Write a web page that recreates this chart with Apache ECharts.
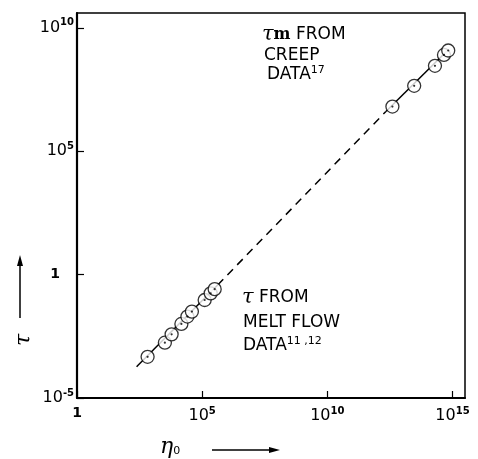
<!DOCTYPE html>
<html><head><meta charset="utf-8">
<script src="https://cdn.jsdelivr.net/npm/echarts@6/dist/echarts.min.js"></script>
<style>html,body{margin:0;padding:0;background:#fff}#c{width:478px;height:459px}</style>
</head><body><div id="c"></div>
<script>
// All values are log10 exponents (eta0 on x, tau on y)
const meltFlowLogEta = [2.82, 3.51, 3.78, 4.17, 4.41, 4.59, 5.10, 5.34, 5.50];
const meltFlowLogTau = [-3.33, -2.76, -2.42, -2.00, -1.70, -1.50, -1.03, -0.76, -0.59];
const creepLogEta = [12.60, 13.47, 14.30, 14.66, 14.83];
const creepLogTau = [6.81, 7.65, 8.46, 8.90, 9.08];
const solidLowLogEta = [2.38, 5.62];
const solidLowLogTau = [-3.73, -0.42];
const dashedLogEta = [5.62, 12.34];
const dashedLogTau = [-0.42, 6.61];
const solidHighLogEta = [12.34, 14.82];
const solidHighLogTau = [6.61, 9.10];
const xTickExps = [0, 5, 10, 15];
const yTickExps = [-5, 0, 5, 10];

const pairs = (a, b) => a.map((v, i) => [v, b[i]]);
const FONT = 'DejaVu Sans';
const tickLabel = (v) => {
  if (v === 0) return '{one|1}';
  return '{b|10}{s|' + v + '}';
};
const richTicks = {
  b: {fontFamily: FONT, fontSize: 16, color: '#000'},
  s: {fontFamily: FONT, fontSize: 10, fontWeight: 'bold', color: '#000', padding: [0, 0, 10, 0]},
  one: {fontFamily: FONT, fontSize: 14, fontWeight: 'bold', color: '#000'}
};

const chart = echarts.init(document.getElementById('c'), null, {renderer: 'canvas'});
const lineBase = {type: 'line', symbol: 'none', silent: true, z: 2};
chart.setOption({
  animation: false,
  backgroundColor: '#fff',
  grid: {left: 77, right: 13, top: 13, bottom: 61, show: true, borderColor: '#000', borderWidth: 1.5, backgroundColor: 'transparent'},
  xAxis: {
    type: 'value', min: 0, max: 15.5, interval: 5,
    axisLine: {onZero: false, lineStyle: {color: '#000', width: 2}},
    axisTick: {inside: true, length: 7, lineStyle: {color: '#000', width: 1.2}},
    splitLine: {show: false},
    axisLabel: {
      margin: 8, showMaxLabel: false,
      formatter: (v) => xTickExps.includes(v) ? tickLabel(v) : '',
      rich: richTicks
    }
  },
  yAxis: {
    type: 'value', min: -5, max: 10.6, interval: 5,
    axisLine: {onZero: false, lineStyle: {color: '#000', width: 2.2}},
    axisTick: {inside: true, length: 7, lineStyle: {color: '#000', width: 1.2}},
    splitLine: {show: false},
    axisLabel: {
      margin: 3, showMaxLabel: false,
      formatter: (v) => yTickExps.includes(v) ? tickLabel(v) : '',
      rich: Object.assign({}, richTicks, {one: Object.assign({}, richTicks.one, {padding: [0, 14, 0, 0]})})
    }
  },
  series: [
    Object.assign({}, lineBase, {data: pairs(solidLowLogEta, solidLowLogTau), lineStyle: {color: '#000', width: 1.5}}),
    Object.assign({}, lineBase, {data: pairs(dashedLogEta, dashedLogTau), lineStyle: {color: '#000', width: 1.5, type: [8, 6]}}),
    Object.assign({}, lineBase, {data: pairs(solidHighLogEta, solidHighLogTau), lineStyle: {color: '#000', width: 1.5}}),
    {type: 'scatter', z: 3, symbol: 'circle', symbolSize: 13, silent: true,
     itemStyle: {color: '#fff', borderColor: '#000', borderWidth: 1.3},
     data: pairs(meltFlowLogEta, meltFlowLogTau).concat(pairs(creepLogEta, creepLogTau))},
    {type: 'scatter', z: 4, symbol: 'circle', symbolSize: 2.2, silent: true,
     itemStyle: {color: '#000'},
     data: pairs(meltFlowLogEta, meltFlowLogTau).concat(pairs(creepLogEta, creepLogTau))}
  ],
  graphic: [
    // upper annotation
    {type: 'text', left: 262, top: 24, style: {text: '{t|τ}{m|m} FROM', rich: {
      t: {fontFamily: 'DejaVu Serif', fontStyle: 'italic', fontSize: 21, fill: '#000'},
      m: {fontFamily: 'DejaVu Serif', fontWeight: 'bold', fontSize: 16, fill: '#000'}
    }, font: '17px "DejaVu Sans"', fill: '#000'}},
    {type: 'text', left: 264, top: 47, style: {text: 'CREEP', font: '17px "DejaVu Sans"', fill: '#000'}},
    {type: 'text', left: 267, top: 65, style: {text: 'DATA{s|17}', rich: {s: {fontSize: 11, fontFamily: FONT, padding: [0, 0, 8, 0], fill: '#000'}}, font: '17px "DejaVu Sans"', fill: '#000'}},
    // lower annotation
    {type: 'text', left: 242, top: 287, style: {text: '{t|τ} FROM', rich: {
      t: {fontFamily: 'DejaVu Serif', fontStyle: 'italic', fontSize: 21, fill: '#000'}
    }, font: '17px "DejaVu Sans"', fill: '#000'}},
    {type: 'text', left: 243, top: 314, style: {text: 'MELT FLOW', font: '17px "DejaVu Sans"', fill: '#000'}},
    {type: 'text', left: 243, top: 336, style: {text: 'DATA{s|11 ,12}', rich: {s: {fontSize: 11, fontFamily: FONT, padding: [0, 0, 8, 0], fill: '#000'}}, font: '17px "DejaVu Sans"', fill: '#000'}},
    // y-axis name and arrow
    {type: 'text', x: 13, y: 346, rotation: Math.PI / 2, style: {text: 'τ', font: 'italic 22px "DejaVu Serif"', fill: '#000'}},
    {type: 'line', shape: {x1: 20, y1: 318, x2: 20, y2: 262}, style: {stroke: '#000', lineWidth: 1.5}},
    {type: 'polygon', shape: {points: [[20, 255], [17, 266], [23, 266]]}, style: {fill: '#000'}},
    // x-axis name and arrow
    {type: 'text', left: 160, top: 436, style: {text: '{e|η}{z|0}', rich: {
      e: {fontFamily: 'DejaVu Serif', fontStyle: 'italic', fontSize: 22, fill: '#000'},
      z: {fontFamily: FONT, fontSize: 11, fill: '#000', padding: [8, 0, 0, 0]}
    }}},
    {type: 'line', shape: {x1: 212, y1: 450, x2: 272, y2: 450}, style: {stroke: '#000', lineWidth: 1.5}},
    {type: 'polygon', shape: {points: [[280, 450], [269, 447], [269, 453]]}, style: {fill: '#000'}}
  ]
});
</script></body></html>
